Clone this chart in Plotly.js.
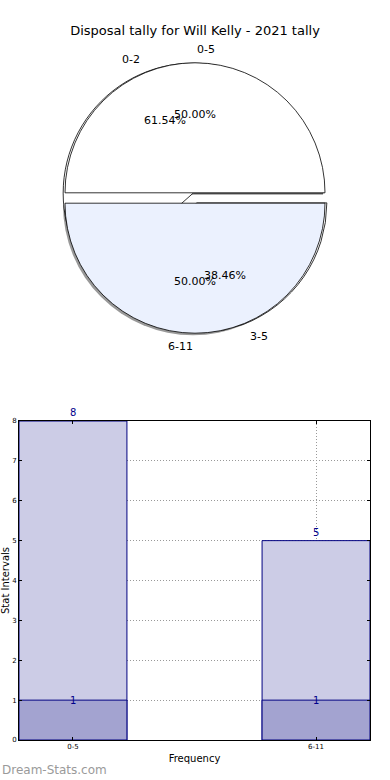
<!DOCTYPE html>
<html><head><meta charset="utf-8">
<script src="https://cdn.plot.ly/plotly-3.0.1.min.js"></script>
<style>html,body{margin:0;padding:0;background:#fff}#chart{width:390px;height:780px}</style>
</head><body><div id="chart"></div>
<script>
// ---- data ----
const chartTitle = 'Disposal tally for Will Kelly - 2021 tally';
const pieLabelsA = ['0-5', '6-11'];
const pieValuesA = [50, 50];
const pieLabelsB = ['0-2', '3-5'];
const pieValuesB = [61.54, 38.46];
const barCategories = ['0-5', '6-11'];
const barTotals = [8, 5];
const barCounts = [1, 1];
const yTickVals = [0, 1, 2, 3, 4, 5, 6, 7, 8];

// ---- layout constants ----
const W = 390, H = 780;
const FONT = 'DejaVu Sans, sans-serif';
const pieC = {x: 195, y: 198}, pieR = 130, pull = 0.04;
const half = pieR * (1 + pull);
const px2x = p => p / W, px2y = p => 1 - p / H;
function dom(dx, dy) {
  return {x: [px2x(pieC.x - half + dx), px2x(pieC.x + half + dx)],
          y: [px2y(pieC.y + half + dy), px2y(pieC.y - half + dy)]};
}
// matplotlib-style start: first slice begins at 3 o'clock, counterclockwise
function rot(values) {
  const tot = values.reduce((a, b) => a + b, 0);
  return 90 - 360 * values[0] / tot;
}
const white = '#ffffff', lightBlue = '#EBF1FE';

const traces = [];
// shadow
traces.push({type: 'pie', values: pieValuesA, labels: ['s1', 's2'], sort: false,
  rotation: rot(pieValuesA), direction: 'counterclockwise', pull: [pull, pull], textinfo: 'none',
  hoverinfo: 'skip', domain: dom(-2, 2), showlegend: false,
  marker: {colors: ['rgba(0,0,0,0.4)', 'rgba(0,0,0,0.4)'], line: {width: 0}}});
// second pie (behind)
traces.push({type: 'pie', values: pieValuesB, labels: pieLabelsB, sort: false,
  rotation: rot(pieValuesB), direction: 'counterclockwise', pull: [pull, pull], textinfo: 'none',
  hoverinfo: 'skip', domain: dom(0, 0), showlegend: false,
  marker: {colors: [white, white], line: {color: '#000', width: 0.8}}});
// first pie (front)
traces.push({type: 'pie', values: pieValuesA, labels: pieLabelsA, sort: false,
  rotation: rot(pieValuesA), direction: 'counterclockwise', pull: [pull, pull], textinfo: 'none',
  hoverinfo: 'skip', domain: dom(0, 0), showlegend: false,
  marker: {colors: [white, lightBlue], line: {color: '#000', width: 0.8}}});

// bars
traces.push({type: 'bar', x: barCategories, y: barTotals, width: 0.444, xaxis: 'x', yaxis: 'y',
  marker: {color: '#CCCCE6', line: {color: '#000080', width: 1}}, hoverinfo: 'skip', showlegend: false});
traces.push({type: 'bar', x: barCategories, y: barCounts, width: 0.444, xaxis: 'x', yaxis: 'y',
  marker: {color: '#A3A3D0', line: {color: '#000080', width: 1}}, hoverinfo: 'skip', showlegend: false});

// pie annotations computed from data (matplotlib style)
const annotations = [];
function pieAnn(labels, values) {
  const tot = values.reduce((a, b) => a + b, 0);
  let start = 0;
  values.forEach((v, i) => {
    const frac = v / tot;
    const mid = (start + frac / 2) * 2 * Math.PI;
    start += frac;
    const c = Math.cos(mid), s = Math.sin(mid);
    const ox = pieC.x + pull * pieR * c, oy = pieC.y - pull * pieR * s;
    annotations.push({xref: 'paper', yref: 'paper', showarrow: false,
      x: px2x(ox + 1.1 * pieR * c), y: px2y(oy - 1.1 * pieR * s),
      xanchor: c > 0 ? 'left' : 'right', yanchor: 'middle', text: labels[i],
      font: {family: FONT, size: 11, color: '#000'}});
    annotations.push({xref: 'paper', yref: 'paper', showarrow: false,
      x: px2x(ox + 0.6 * pieR * c), y: px2y(oy - 0.6 * pieR * s),
      xanchor: 'center', yanchor: 'middle', text: (frac * 100).toFixed(2) + '%',
      font: {family: FONT, size: 11, color: '#000'}});
  });
}
pieAnn(pieLabelsA, pieValuesA);
pieAnn(pieLabelsB, pieValuesB);

// bar value labels
barCategories.forEach((c, i) => {
  annotations.push({xref: 'x', yref: 'y', x: c, y: barTotals[i], text: String(barTotals[i]),
    showarrow: false, yanchor: 'bottom', yshift: 1, font: {family: FONT, size: 10, color: '#00008B'}});
  annotations.push({xref: 'x', yref: 'y', x: c, y: barCounts[i], text: String(barCounts[i]),
    showarrow: false, yanchor: 'middle', font: {family: FONT, size: 10, color: '#00008B'}});
});
annotations.push({xref: 'paper', yref: 'paper', x: 0, y: px2y(770), xanchor: 'left', yanchor: 'middle',
  showarrow: false, text: 'Dream-Stats.com', font: {family: FONT, size: 12, color: '#9a9a9a'}});

const gridStyle = {showgrid: true, gridcolor: '#999999', griddash: '1px,2px', gridwidth: 1};
const layout = {
  width: W, height: H, margin: {l: 0, r: 0, t: 0, b: 0}, autosize: false,
  paper_bgcolor: '#fff', plot_bgcolor: '#fff', barmode: 'overlay',
  font: {family: FONT, color: '#000'},
  title: {text: chartTitle, x: 0.5, xanchor: 'center', y: 1 - 30 / H, yanchor: 'middle', yref: 'paper',
    font: {family: FONT, size: 13, color: '#000'}},
  xaxis: Object.assign({domain: [px2x(19), px2x(370)], anchor: 'y', type: 'category', range: [-0.222, 1.222],
    showline: true, linecolor: '#000', linewidth: 1, mirror: 'ticks',
    ticks: 'inside', ticklen: 3, tickcolor: '#000', tickfont: {family: FONT, size: 7},
    title: {text: 'Frequency', font: {family: FONT, size: 10}, standoff: 4}, zeroline: false}, gridStyle),
  yaxis: Object.assign({domain: [px2y(740), px2y(421)], anchor: 'x', range: [0, 8], tickvals: yTickVals,
    showline: true, linecolor: '#000', linewidth: 1, mirror: 'ticks',
    ticks: 'inside', ticklen: 3, tickcolor: '#000', tickfont: {family: FONT, size: 7},
    title: {text: 'Stat Intervals', font: {family: FONT, size: 10}, standoff: 2}, zeroline: false}, gridStyle),
  annotations: annotations
};
Plotly.newPlot('chart', traces, layout, {staticPlot: true, displayModeBar: false});
</script></body></html>
